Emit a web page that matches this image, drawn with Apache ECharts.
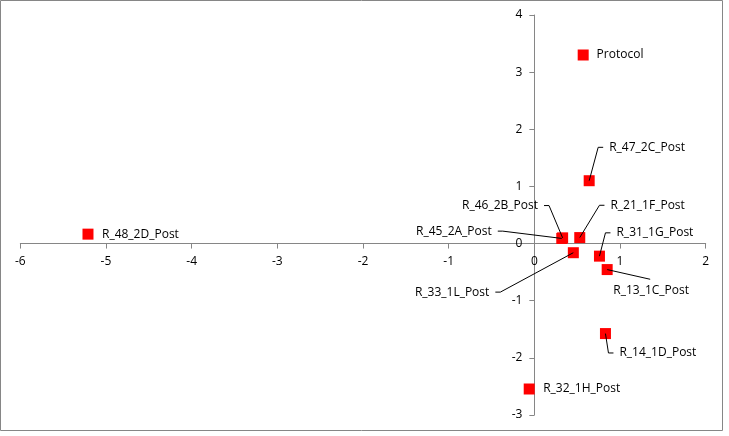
<!DOCTYPE html>
<html>
<head>
<meta charset="utf-8">
<script src="https://cdn.jsdelivr.net/npm/echarts@6/dist/echarts.min.js"></script>
<style>html,body{margin:0;padding:0;background:#fff;}#c{width:729px;height:436px;}</style>
</head>
<body>
<div id="c"></div>
<script>
// Data
var names = ['Protocol','R_47_2C_Post','R_46_2B_Post','R_45_2A_Post','R_21_1F_Post','R_31_1G_Post','R_33_1L_Post','R_13_1C_Post','R_14_1D_Post','R_32_1H_Post','R_48_2D_Post'];
var xValues = [0.57, 0.64, 0.33, 0.32, 0.53, 0.76, 0.455, 0.85, 0.83, -0.06, -5.21];
var yValues = [3.30, 1.10, 0.10, 0.09, 0.105, -0.22, -0.16, -0.455, -1.575, -2.545, 0.165];
var xTicks = [-6, -5, -4, -3, -2, -1, 0, 1, 2];
var yTicks = [-3, -2, -1, 0, 1, 2, 3, 4];

// Label placement (pixel offsets from the point, styling only)
var labelOffset = [[13.4,0],[20,-33.4],[-24.6,-32.3],[-70,-7.3],[30.7,-32.3],[17,-23.3],[-84,39.4],[44,20.7],[14,19.4],[14,0],[14,0]];
var labelAlign = ['left','left','right','right','left','left','right','center','left','left','left'];
var leaderSide = [null,'left','right','right','left','left','right','top','left',null,null];

var points = xValues.map(function(x, i){ return [x, yValues[i]]; });

var GAP = 6, STUB = 5;
var font = "'Open Sans', sans-serif";
var axisColor = '#868686';

function renderLabel(params, api){
  var i = params.dataIndex;
  var pt = api.coord([api.value(0), api.value(1)]);
  var o = labelOffset[i];
  var tx = pt[0] + o[0], ty = pt[1] + o[1];
  var children = [];
  var side = leaderSide[i];
  if (side) {
    var pts;
    if (side === 'left') {
      pts = [[pt[0], pt[1]], [tx - GAP - STUB, ty], [tx - GAP, ty]];
    } else if (side === 'right') {
      pts = [[pt[0], pt[1]], [tx + GAP + STUB, ty], [tx + GAP, ty]];
    } else {
      pts = [[pt[0], pt[1]], [tx - 1, ty - 11]];
    }
    children.push({type: 'polyline', shape: {points: pts}, style: {stroke: '#000', lineWidth: 1, fill: null}});
  }
  children.push({
    type: 'text',
    style: {text: names[i], x: tx, y: ty, align: labelAlign[i], verticalAlign: 'middle',
            fill: '#000', fontSize: 12, fontFamily: font}
  });
  return {type: 'group', children: children};
}

var chart = echarts.init(document.getElementById('c'), null, {renderer:'canvas'});
function axisCommon(ticks){
  return {
    type: 'value', min: ticks[0], max: ticks[ticks.length-1], interval: 1,
    axisLine: {onZero: false, lineStyle: {color: axisColor, width: 1}},
    axisTick: {show: true, length: 5, lineStyle: {color: axisColor}},
    axisLabel: {color: '#000', fontSize: 12, fontFamily: font, margin: 12},
    splitLine: {show: false}
  };
}
chart.setOption({
  animation: false,
  backgroundColor: '#fff',
  textStyle: {fontFamily: font},
  graphic: [{
    type: 'rect', silent: true, z: -1,
    shape: {x: 0.5, y: 0.5, width: 722, height: 430},
    style: {fill: 'none', stroke: axisColor, lineWidth: 1}
  }],
  grid: {left: 20.3, right: 23.3, top: 15, bottom: 21, containLabel: false, outerBoundsMode: 'none'},
  xAxis: axisCommon(xTicks),
  yAxis: axisCommon(yTicks),
  series: [{
    type: 'scatter',
    symbol: 'rect',
    symbolSize: 11,
    itemStyle: {color: '#ff0000', opacity: 1},
    data: points,
    z: 2,
    emphasis: {disabled: true}
  }, {
    type: 'custom',
    data: points,
    renderItem: renderLabel,
    z: 3,
    silent: true
  }]
});

// Place the axes so they cross at the origin, using the chart's own scales
var zero = chart.convertToPixel({gridIndex: 0}, [0, 0]);
var corner = chart.convertToPixel({gridIndex: 0}, [xTicks[0], yTicks[0]]);
chart.setOption({
  xAxis: {offset: zero[1] - corner[1]},
  yAxis: {offset: corner[0] - zero[0]}
});
</script>
</body>
</html>
